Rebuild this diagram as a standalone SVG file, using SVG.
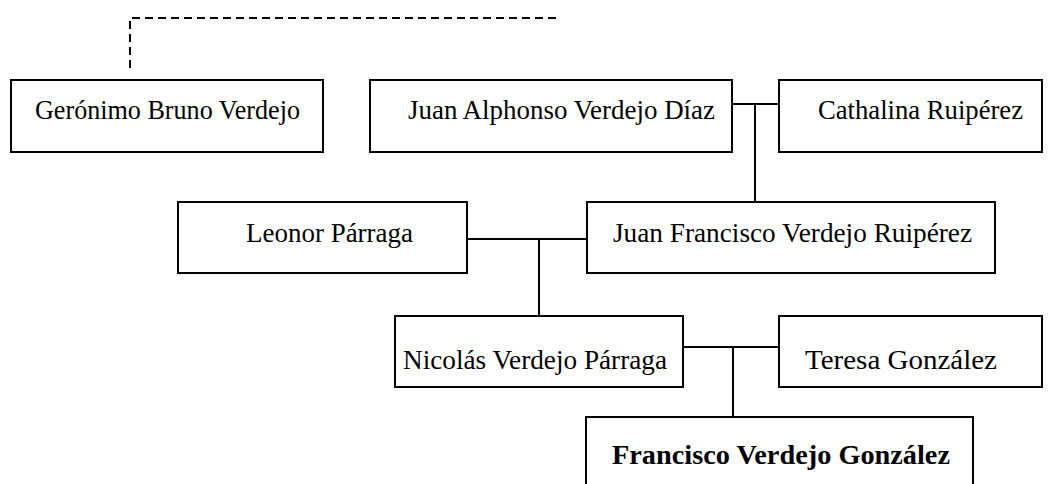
<svg xmlns="http://www.w3.org/2000/svg" width="1053" height="484" viewBox="0 0 1053 484">
<style>
.box{fill:#fff;stroke:#000;stroke-width:2}
.t{font-family:"Liberation Serif","Times New Roman",serif;font-size:28px;fill:#000}
.b{font-weight:bold}
.ln{stroke:#000;stroke-width:2;fill:none}
.dash{stroke:#000;stroke-width:2;fill:none;stroke-dasharray:8 5}
</style>
<rect width="1053" height="484" fill="#fff"/>
<g id="connectors">
<path class="dash" d="M130,68 V18 H560"/>
<path class="ln" d="M732,104 H779 M755,104 V202"/>
<path class="ln" d="M467,239 H587 M539,239 V316"/>
<path class="ln" d="M683,347 H779 M733,347 V417"/>
</g>
<g id="geronimo"><rect class="box" x="11" y="80" width="312" height="72"/><text class="t" x="35" y="119" textLength="265" lengthAdjust="spacingAndGlyphs">Gerónimo Bruno Verdejo</text></g>
<g id="juan-alphonso"><rect class="box" x="370" y="80" width="362" height="72"/><text class="t" x="408" y="119" textLength="307" lengthAdjust="spacingAndGlyphs">Juan Alphonso Verdejo Díaz</text></g>
<g id="cathalina"><rect class="box" x="779" y="80" width="263" height="72"/><text class="t" x="818" y="119" textLength="205" lengthAdjust="spacingAndGlyphs">Cathalina Ruipérez</text></g>
<g id="leonor"><rect class="box" x="178" y="202" width="289" height="71"/><text class="t" x="246" y="242" textLength="167" lengthAdjust="spacingAndGlyphs">Leonor Párraga</text></g>
<g id="juan-francisco"><rect class="box" x="587" y="202" width="408" height="71"/><text class="t" x="613" y="242" textLength="359" lengthAdjust="spacingAndGlyphs">Juan Francisco Verdejo Ruipérez</text></g>
<g id="nicolas"><rect class="box" x="395" y="316" width="288" height="71"/><text class="t" x="403" y="369" textLength="264" lengthAdjust="spacingAndGlyphs">Nicolás Verdejo Párraga</text></g>
<g id="teresa"><rect class="box" x="779" y="316" width="263" height="71"/><text class="t" x="805" y="369" textLength="192" lengthAdjust="spacingAndGlyphs">Teresa González</text></g>
<g id="francisco"><rect class="box" x="586" y="417" width="387" height="80"/><text class="t b" x="612" y="464" textLength="338" lengthAdjust="spacingAndGlyphs">Francisco Verdejo González</text></g>
</svg>
